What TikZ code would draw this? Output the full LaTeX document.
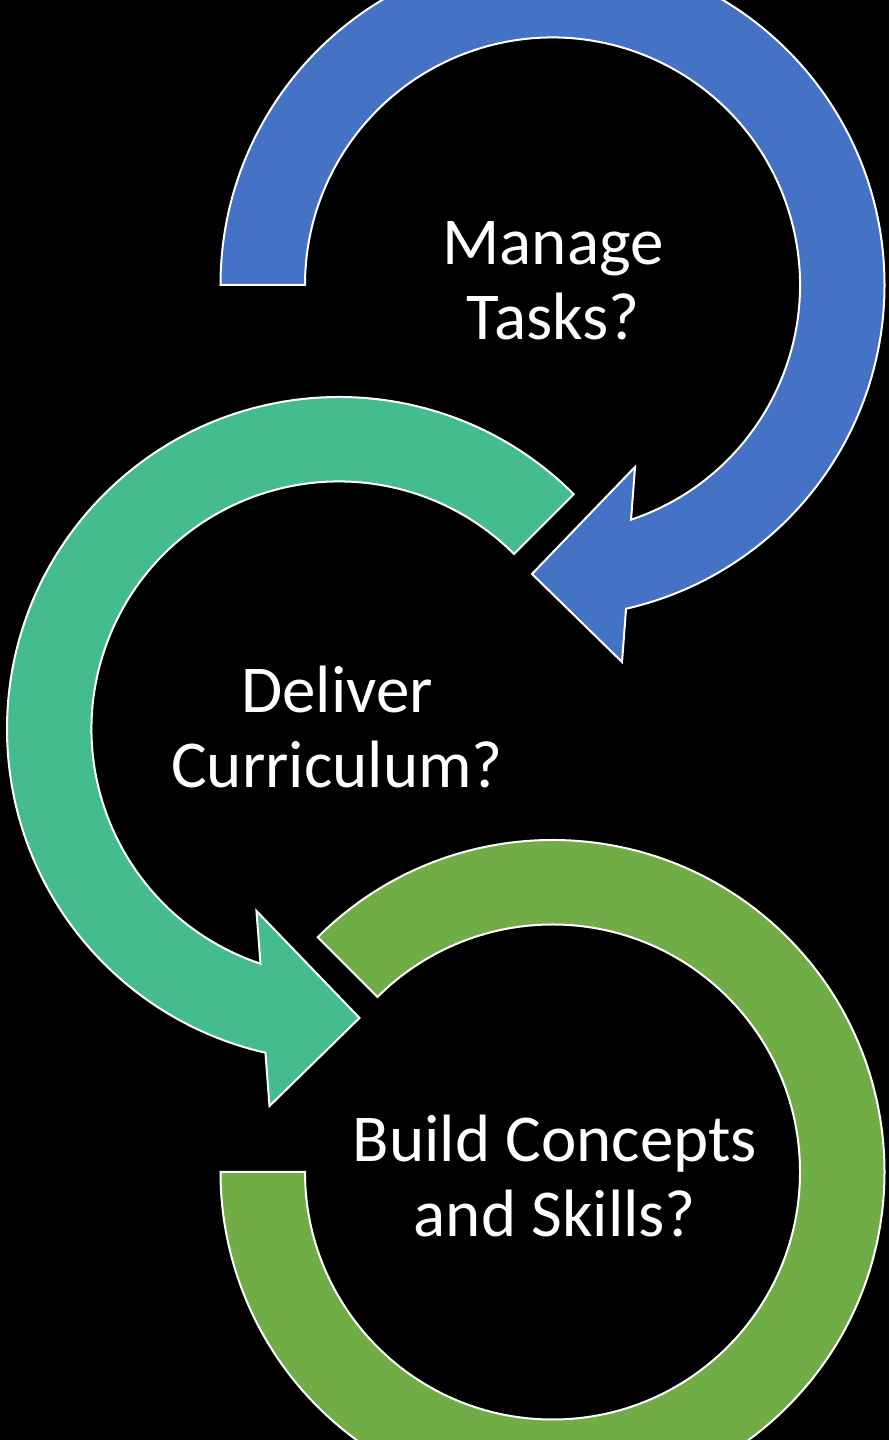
\documentclass[tikz,border=0pt]{standalone}
\usepackage{fontspec}
\setmainfont{Carlito}
\definecolor{arrblue}{HTML}{4472C4}
\definecolor{arrteal}{HTML}{45BC8E}
\definecolor{arrgreen}{HTML}{70AD47}
\begin{document}
\begin{tikzpicture}[
  ring/.style={draw=white, line width=2pt, line join=miter},
  lbl/.style={text=white, align=center, inner sep=0pt, font=\fontsize{67pt}{75pt}\selectfont}
]
\useasboundingbox (0pt,0pt) rectangle (889pt,1440pt);
\fill[black] (0pt,0pt) rectangle (889pt,1440pt);
\clip (0pt,0pt) rectangle (889pt,1440pt);
% blue: Manage Tasks
\begin{scope}[shift={(552.5pt,1155pt)}]
\coordinate (cblue) at (0pt,0pt);
\filldraw[ring, fill=arrblue] (180:332pt) arc[start angle=180, end angle=-77.2, radius=332pt]
  -- (-79.55:383.4pt) -- (-94.06:289.7pt) -- (-65.6:199.8pt) -- (-71.5:247.5pt)
  arc[start angle=-71.5, end angle=180, radius=247.5pt] -- cycle;
\end{scope}
% teal: Deliver Curriculum
\begin{scope}[shift={(339pt,711pt)}]
\coordinate (cteal) at (0pt,0pt);
\filldraw[ring, fill=arrteal] (45:332pt) arc[start angle=45, end angle=257.2, radius=332pt]
  -- (259.55:383.4pt) -- (274.06:289.7pt) -- (245.6:199.8pt) -- (251.5:247.5pt)
  arc[start angle=251.5, end angle=45, radius=247.5pt] -- cycle;
\end{scope}
% green: Build Concepts
\begin{scope}[shift={(552.5pt,268pt)}]
\coordinate (cgreen) at (0pt,0pt);
\filldraw[ring, fill=arrgreen] (135:332pt) arc[start angle=135, end angle=-180, radius=332pt]
  -- (180:247.5pt) arc[start angle=-180, end angle=135, radius=247.5pt] -- cycle;
\end{scope}
\node[lbl, anchor=base] (manage) at (553pt,1100pt) {Manage\\Tasks?};
\node[lbl, anchor=base] (deliver) at (337pt,652pt) {Deliver\\Curriculum?};
\node[lbl, anchor=base] (build) at (555pt,203pt) {Build Concepts\\and Skills?};
\end{tikzpicture}
\end{document}
